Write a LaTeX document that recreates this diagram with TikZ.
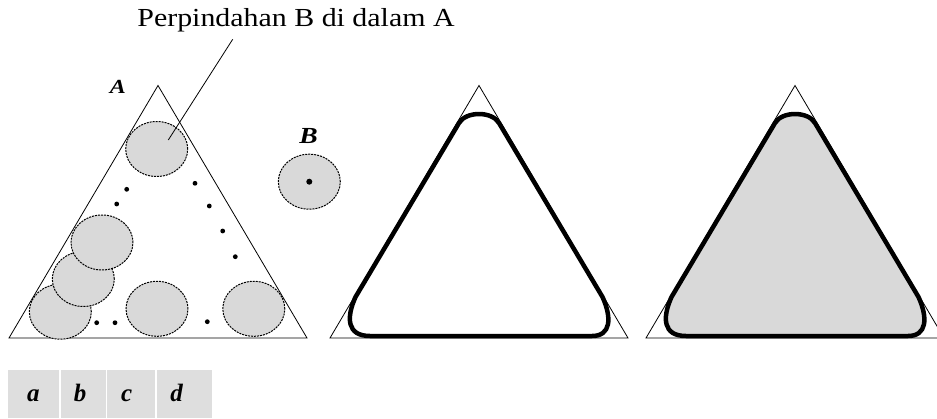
\documentclass[tikz,border=0pt]{standalone}
\usepackage{fontspec}
\setmainfont{Liberation Serif}
\usetikzlibrary{shapes.geometric,calc}
\definecolor{cgray}{HTML}{D9D9D9}
\definecolor{bgray}{HTML}{DEDEDE}
\begin{document}
\begin{tikzpicture}[x=1pt,y=-1pt,
  circ/.style={ellipse, minimum width=62pt, minimum height=55pt, inner sep=0pt, fill=cgray, draw=black, line width=1pt, dash pattern=on 2pt off 1pt},
  dotm/.style={circle, fill=black, inner sep=0pt, minimum size=4.8pt},
  tri/.style={draw=black, line width=0.8pt, line join=miter},
  rnd/.style={draw=black, line width=4.5pt, line join=round},
  labA/.style={font=\fontsize{20}{24}\selectfont\bfseries\itshape, inner sep=0pt, anchor=base},
  labB/.style={font=\fontsize{23}{27}\selectfont\bfseries\itshape, inner sep=0pt, anchor=base},
  cell/.style={fill=bgray, draw=none, inner sep=0pt, minimum height=48pt, anchor=north west},
  cellt/.style={font=\fontsize{25}{30}\selectfont\bfseries\itshape, inner sep=0pt, anchor=base}
]
\useasboundingbox (0,0) rectangle (937,418);
\clip (0,0) rectangle (937,418);

% title
\node[inner sep=0pt, anchor=base, font=\fontsize{26}{30}\selectfont] (title) at (296,26.7) {\scalebox{1.15}[1]{Perpindahan B di dalam A}};

% triangle A
\coordinate (AL) at (9,338);
\coordinate (AT) at (158,85.5);
\coordinate (AR) at (307,338);
\draw[tri] (AL) -- (AT) -- (AR) -- cycle;

% circles inside A (drawn bottom-up for overlap)
\node[circ] (c3) at (60.3,311.7) {};
\node[circ] (c2) at (83.3,279) {};
\node[circ] (c1) at (102,242.5) {};
\node[circ] (c0) at (156.7,149) {};
\node[circ] (c4) at (157,308.8) {};
\node[circ] (c5) at (253.8,308.8) {};

% dots inside A
\node[dotm] (d1) at (126.7,189.3) {};
\node[dotm] (d2) at (116.7,204) {};
\node[dotm] (d3) at (195,183.3) {};
\node[dotm] (d4) at (209.3,206) {};
\node[dotm] (d5) at (222.7,231) {};
\node[dotm] (d6) at (235.3,256.7) {};
\node[dotm] (d7) at (96.7,322.7) {};
\node[dotm] (d8) at (115,322.7) {};
\node[dotm] (d9) at (207.3,321.7) {};

% leader line
\coordinate (lp) at (168.3,140);
\coordinate (lq) at (232.7,39.3);
\draw[line width=0.8pt] (lp) -- (lq);

% labels A and B
\node[labA] (labelA) at (118,93.3) {\scalebox{1.2}[1]{A}};
\node[labB] (labelB) at (308.5,143) {\scalebox{1.2}[1]{B}};

% circle B
\node[circ] (cB) at (309.3,181.7) {};
\node[dotm, minimum size=6pt] (dB) at (309.3,181.7) {};

% triangle 2
\coordinate (BL) at (330,338);
\coordinate (BT) at (479,85.5);
\coordinate (BR) at (628,338);
\draw[tri] (BL) -- (BT) -- (BR) -- cycle;
\draw[rnd] (479,336) -- (370,336) .. controls (347,336) and (346,318) .. (355.5,297)
  -- (459,123) .. controls (466,111) and (492,111) .. (499,123)
  -- (602.5,297) .. controls (612,318) and (611,336) .. (592,336) -- cycle;

% triangle 3 (same shape, shifted)
\begin{scope}[xshift=316pt]
\fill[cgray] (479,336) -- (370,336) .. controls (347,336) and (346,318) .. (355.5,297)
  -- (459,123) .. controls (466,111) and (492,111) .. (499,123)
  -- (602.5,297) .. controls (612,318) and (611,336) .. (592,336) -- cycle;
\coordinate (CL) at (330,338);
\coordinate (CT) at (479,85.5);
\coordinate (CR) at (628,338);
\draw[tri] (CL) -- (CT) -- (CR) -- cycle;
\draw[rnd] (479,336) -- (370,336) .. controls (347,336) and (346,318) .. (355.5,297)
  -- (459,123) .. controls (466,111) and (492,111) .. (499,123)
  -- (602.5,297) .. controls (612,318) and (611,336) .. (592,336) -- cycle;
\end{scope}

% bottom cells
\node[cell, minimum width=51pt] (ca) at (8,370) {};
\node[cell, minimum width=44.5pt] (cb) at (61,370) {};
\node[cell, minimum width=48pt] (cc) at (107,370) {};
\node[cell, minimum width=55pt] (cd) at (157,370) {};
\node[cellt] (ta) at (33.3,401.7) {a};
\node[cellt] (tb) at (80,401.7) {b};
\node[cellt] (tc) at (126.7,401.7) {c};
\node[cellt] (td) at (176.7,401.7) {d};
\end{tikzpicture}
\end{document}
